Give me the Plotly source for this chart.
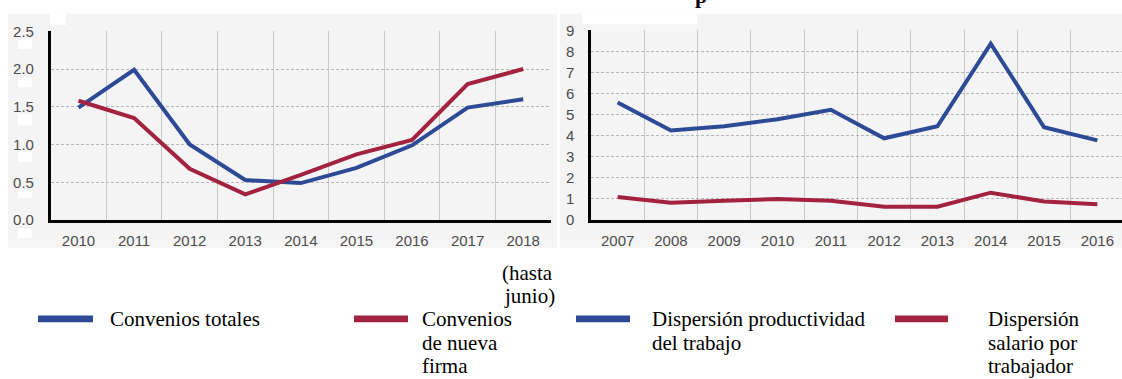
import plotly.graph_objects as go

# --- data -------------------------------------------------------------
years_left = [2010, 2011, 2012, 2013, 2014, 2015, 2016, 2017, 2018]
convenios_totales = [1.49, 1.99, 1.00, 0.53, 0.49, 0.69, 0.99, 1.49, 1.60]
convenios_nueva_firma = [1.58, 1.35, 0.68, 0.34, 0.60, 0.87, 1.06, 1.80, 2.00]

years_right = [2007, 2008, 2009, 2010, 2011, 2012, 2013, 2014, 2015, 2016]
disp_productividad = [5.58, 4.25, 4.45, 4.78, 5.23, 3.88, 4.45, 8.37, 4.40, 3.78]
disp_salario = [1.10, 0.82, 0.92, 1.00, 0.92, 0.63, 0.63, 1.30, 0.88, 0.75]

left_yticks = [0.0, 0.5, 1.0, 1.5, 2.0, 2.5]
right_yticks = list(range(0, 10))

BLUE = "#2c4a96"
RED = "#a2223f"
W, H = 1122, 379


def px(x):
    return x / W


def py(y):
    return 1 - y / H


fig = go.Figure()

fig.add_trace(go.Scatter(x=years_left, y=convenios_totales, mode="lines",
                         line=dict(color=BLUE, width=4), xaxis="x", yaxis="y",
                         name="Convenios totales"))
fig.add_trace(go.Scatter(x=years_left, y=convenios_nueva_firma, mode="lines",
                         line=dict(color=RED, width=4), xaxis="x", yaxis="y",
                         name="Convenios de nueva firma"))
fig.add_trace(go.Scatter(x=years_right, y=disp_productividad, mode="lines",
                         line=dict(color=BLUE, width=4), xaxis="x2", yaxis="y2",
                         name="Dispersión productividad del trabajo"))
fig.add_trace(go.Scatter(x=years_right, y=disp_salario, mode="lines",
                         line=dict(color=RED, width=4), xaxis="x2", yaxis="y2",
                         name="Dispersión salario por trabajador"))

tick_font = dict(family="Liberation Sans, Arial", size=15, color="#4d4d4d")

xcommon = dict(
    showgrid=False, zeroline=False, showline=True, linecolor="black",
    linewidth=3, ticks="", tickfont=tick_font, ticklabelstandoff=5,
    tickmode="array", fixedrange=True,
    minor=dict(tickmode="linear", dtick=1, showgrid=True,
               gridcolor="#c9c9c9", gridwidth=1),
)
ycommon = dict(
    showgrid=True, gridcolor="#b8b8b8", gridwidth=1, griddash="3px,2px",
    zeroline=False, showline=True, linecolor="black", linewidth=2.5,
    ticks="", tickfont=tick_font, ticklabelstandoff=11,
    tickmode="array", fixedrange=True,
)

x2_max = 2006.5 + (W - 591) / 53.3

fig.update_layout(
    width=W, height=H,
    margin=dict(l=0, r=0, t=0, b=0),
    paper_bgcolor="white", plot_bgcolor="rgba(0,0,0,0)",
    showlegend=False,
    xaxis=dict(xcommon, domain=[px(50.7), px(551)], range=[2009.5, 2018.5],
               tickvals=years_left, ticktext=[str(y) for y in years_left],
               anchor="y", minor=dict(xcommon["minor"], tick0=2009.5)),
    yaxis=dict(ycommon, domain=[py(221), py(23.3)], range=[0, 2.5],
               tickvals=left_yticks, ticktext=[f"{v:.1f}" for v in left_yticks],
               anchor="x"),
    xaxis2=dict(xcommon, domain=[px(591), 1], range=[2006.5, x2_max],
                tickvals=years_right, ticktext=[str(y) for y in years_right],
                anchor="y2", minor=dict(xcommon["minor"], tick0=2006.5)),
    yaxis2=dict(ycommon, domain=[py(221), py(22.3)], range=[0, 9],
                tickvals=right_yticks, ticktext=[str(v) for v in right_yticks],
                anchor="x2"),
)

# panel backgrounds and small white boxes on them
shapes = [
    dict(type="rect", xref="paper", yref="paper", layer="below",
         x0=px(8), x1=px(557), y0=py(250), y1=py(5),
         fillcolor="#f4f4f4", line=dict(width=0)),
    dict(type="rect", xref="paper", yref="paper", layer="below",
         x0=px(560), x1=1, y0=py(250), y1=py(5),
         fillcolor="#f4f4f4", line=dict(width=0)),
    dict(type="rect", xref="paper", yref="paper", layer="below",
         x0=px(50), x1=px(66), y0=py(17), y1=py(5),
         fillcolor="white", line=dict(width=0)),
    dict(type="rect", xref="paper", yref="paper", layer="below",
         x0=px(582), x1=px(697), y0=py(16), y1=py(5),
         fillcolor="white", line=dict(width=0)),
]
for y0, y1 in [(32, 42), (72, 82), (110, 122), (150, 160), (190, 198), (230, 240)]:
    shapes.append(dict(type="rect", xref="paper", yref="paper", layer="below",
                       x0=px(18), x1=px(32), y0=py(y1), y1=py(y0),
                       fillcolor="white", line=dict(width=0)))

serif = dict(family="Liberation Serif, Times New Roman", size=21, color="black")
LINE_STEP = 24.5
annotations = []


def add_lines(lines, x, y_first):
    # one annotation per text line so the spacing can be set exactly
    for i, line in enumerate(lines):
        annotations.append(dict(xref="paper", yref="paper", x=px(x),
                                y=py(y_first + i * LINE_STEP),
                                xanchor="left", yanchor="middle",
                                showarrow=False, text=line, font=serif))


# legend swatches and labels
legend_items = [
    (38, 93, BLUE, ["Convenios totales"], 108),
    (354, 408, RED, ["Convenios", "de nueva", "firma"], 420),
    (576, 630, BLUE, ["Dispersión productividad", "del trabajo"], 650),
    (895, 948, RED, ["Dispersión", "salario por", "trabajador"], 986),
]
for x0, x1, color, lines, tx in legend_items:
    shapes.append(dict(type="rect", xref="paper", yref="paper",
                       x0=px(x0), x1=px(x1), y0=py(328), y1=py(321),
                       fillcolor=color, line=dict(width=0)))
    add_lines(lines, tx, 325)

# note under the last year of the left panel
add_lines(["(hasta"], 500, 276)
add_lines(["junio)"], 502, 300.5)

# title line, mostly above the top edge
annotations.append(dict(xref="paper", yref="paper", x=px(701), y=py(1),
                        xanchor="center", yanchor="bottom", showarrow=False,
                        text="<b>p</b>",
                        font=dict(family="Liberation Serif", size=22, color="black")))

fig.update_layout(shapes=shapes, annotations=annotations)

fig.write_html("out.html")
